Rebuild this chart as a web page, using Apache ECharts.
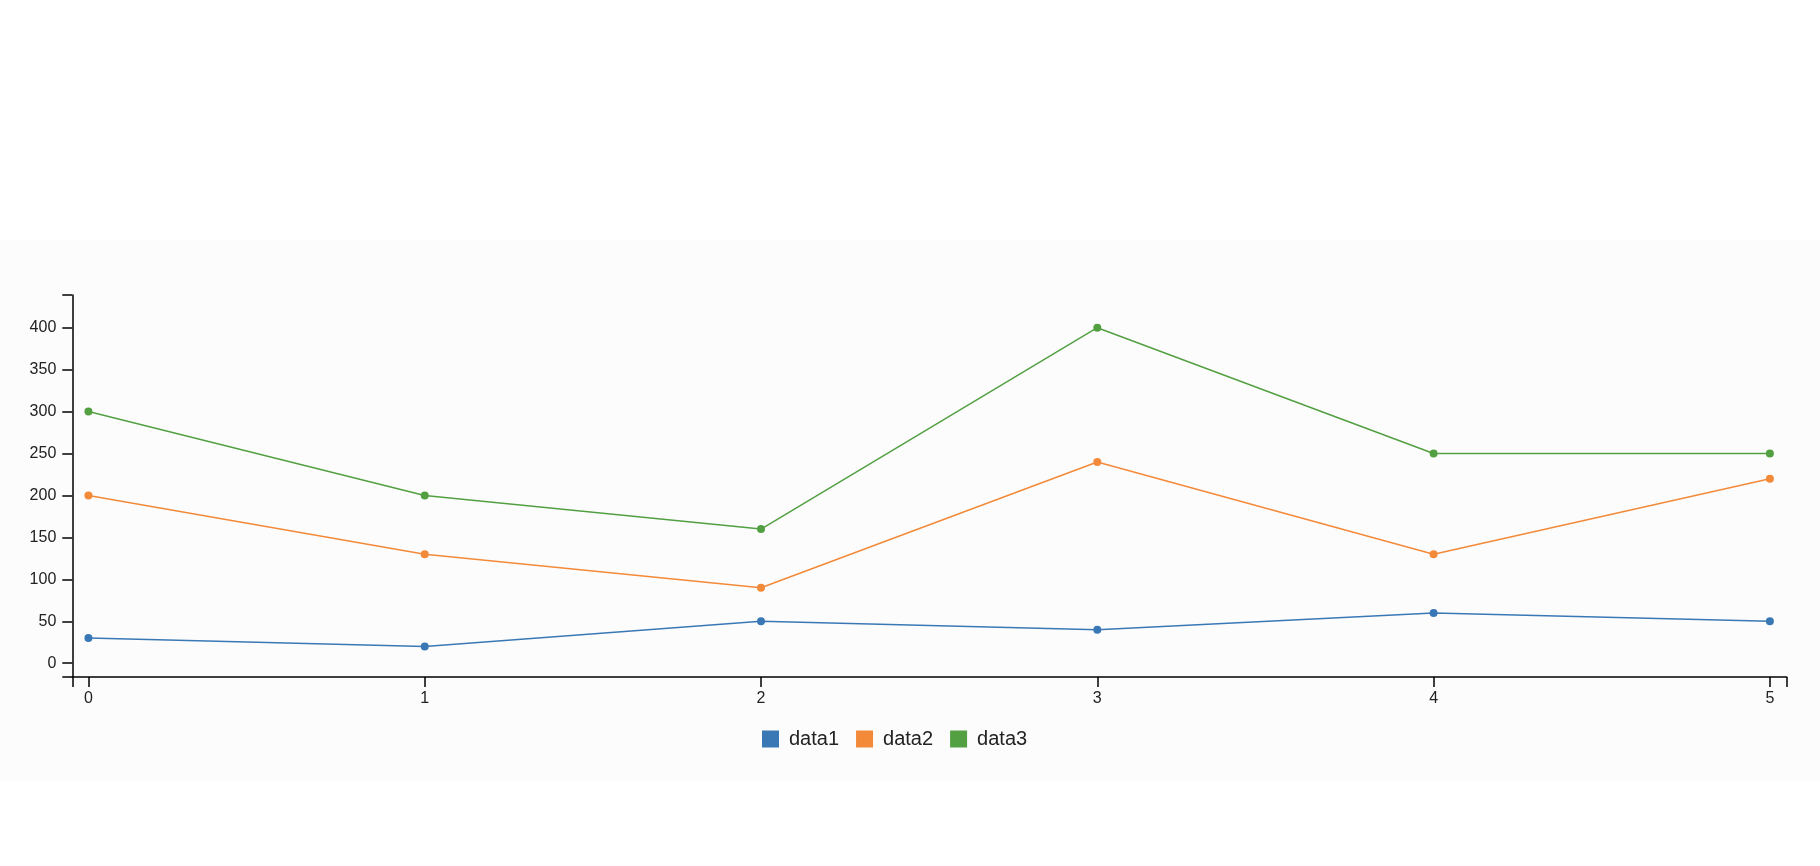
<!DOCTYPE html>
<html>
<head>
<meta charset="utf-8">
<script src="https://cdn.jsdelivr.net/npm/echarts@6/dist/echarts.min.js"></script>
<style>
html,body{margin:0;padding:0;background:#fff;}
#bg{position:absolute;left:0;top:240px;width:1820px;height:542px;background:#fcfcfc;}
#chart{position:absolute;left:0;top:0;width:1820px;height:866px;}
</style>
</head>
<body>
<div id="bg"></div>
<div id="chart"></div>
<script>
var categories = [0, 1, 2, 3, 4, 5];
var data1 = [30, 20, 50, 40, 60, 50];
var data2 = [200, 130, 90, 240, 130, 220];
var data3 = [300, 200, 160, 400, 250, 250];
var yTicks = [0, 50, 100, 150, 200, 250, 300, 350, 400];

var X_MIN = -0.048, X_MAX = 5.05;
var Y_MIN = -16.4, Y_MAX = 439;
var FONT = '"Liberation Sans", Arial, Helvetica, sans-serif';
var colors = ['#3a78b5', '#f38a3a', '#53a042'];

function pairs(arr) { return categories.map(function (c, i) { return [c, arr[i]]; }); }

var chart = echarts.init(document.getElementById('chart'), null, { renderer: 'canvas' });
var axisLine = { show: true, onZero: false, lineStyle: { color: '#000', width: 1.5 } };
function mkSeries(name, arr, color) {
  return {
    name: name, type: 'line', data: pairs(arr),
    symbol: 'circle', symbolSize: 8, showSymbol: true,
    lineStyle: { color: color, width: 1.5 },
    itemStyle: { color: color },
    emphasis: { disabled: true },
    animation: false
  };
}
chart.setOption({
  backgroundColor: 'transparent',
  animation: false,
  color: colors,
  textStyle: { fontFamily: FONT },
  grid: { left: 72.3, right: 33.3, top: 295, bottom: 189, containLabel: false },
  xAxis: {
    type: 'value', min: X_MIN, max: X_MAX,
    axisLine: axisLine,
    axisTick: { show: true, length: 10, inside: false, customValues: [X_MIN].concat(categories).concat([X_MAX]), lineStyle: { color: '#000', width: 1.5 } },
    axisLabel: { customValues: categories, margin: 14, color: '#222', fontSize: 16, fontFamily: FONT, showMinLabel: true, showMaxLabel: true },
    splitLine: { show: false }
  },
  yAxis: {
    type: 'value', min: Y_MIN, max: Y_MAX,
    axisLine: axisLine,
    axisTick: { show: true, length: 10, customValues: [Y_MIN].concat(yTicks).concat([Y_MAX]), lineStyle: { color: '#000', width: 1.5 } },
    axisLabel: { customValues: yTicks, margin: 16, color: '#222', fontSize: 16, fontFamily: FONT },
    splitLine: { show: false }
  },
  legend: {
    data: ['data1', 'data2', 'data3'],
    left: 757, top: 724,
    icon: 'rect', itemWidth: 17, itemHeight: 17, itemGap: 17,
    textStyle: { fontSize: 20, color: '#222', fontFamily: FONT, padding: [0, 0, 0, 5] },
    selectedMode: false
  },
  series: [
    mkSeries('data1', data1, colors[0]),
    mkSeries('data2', data2, colors[1]),
    mkSeries('data3', data3, colors[2])
  ]
});
</script>
</body>
</html>
